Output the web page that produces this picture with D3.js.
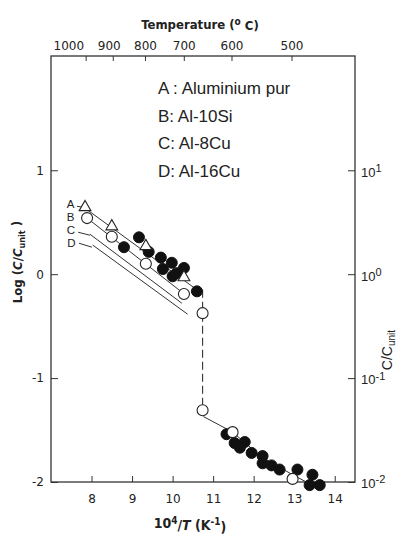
<!DOCTYPE html>
<html><head><meta charset="utf-8">
<script src="https://cdn.jsdelivr.net/npm/d3@7/dist/d3.min.js"></script>
<style>
html,body{margin:0;padding:0;background:#fff;}
svg{display:block;}
</style></head>
<body>
<script>
// ---- data ----
const xTicks = [8, 9, 10, 11, 12, 13, 14];
const yTicks = [-2, -1, 0, 1];
const yTickLabels = ["-2", "-1", "0", "1"];
const rightTicks = [10, 1, 0.1, 0.01];
const rightTickExp = ["1", "0", "-1", "-2"];
const tempTicks = [1000, 900, 800, 700, 600, 500];
const legendItems = ["A : Aluminium pur", "B: Al-10Si", "C: Al-8Cu", "D: Al-16Cu"];

// A: pure Al (open triangles)
const seriesA = [[7.84, 0.635], [8.50, 0.45], [9.34, 0.26], [10.28, -0.04]];
// B: Al-10Si (open circles)
const seriesB = [[7.89, 0.54], [8.50, 0.36], [9.34, 0.10], [10.28, -0.19]];
// other open circles
const openPts = [[10.74, -0.375], [10.74, -1.31], [11.48, -1.52], [12.96, -1.97]];
// filled circles
const filledPts = [
  [8.80, 0.26], [9.17, 0.355], [9.41, 0.215], [9.71, 0.16], [9.98, 0.11], [9.76, 0.05],
  [10.0, -0.02], [10.1, 0.01], [10.28, 0.06], [10.6, -0.165],
  [11.33, -1.54], [11.53, -1.625], [11.78, -1.615], [11.66, -1.67], [11.95, -1.72],
  [12.22, -1.75], [12.22, -1.82], [12.44, -1.84], [12.64, -1.88], [13.08, -1.88],
  [13.45, -1.93], [13.38, -2.03], [13.63, -2.03]
];
// fitted lines
const lineA = [[7.84, 0.635], [10.6, -0.15]];
const lineB = [[7.89, 0.54], [10.35, -0.21]];
const lineC = [[7.96, 0.385], [10.23, -0.28]];
const lineD = [[8.03, 0.28], [10.37, -0.385]];
const lineJump = [[10.74, -0.15], [10.74, -1.31]];
const lineLow = [[10.76, -1.37], [11.48, -1.52], [12.2, -1.76], [12.96, -1.93], [13.3, -2.0]];
// curve letters and their leaders
const curveLetters = [["A", 7.39, 0.635], ["B", 7.39, 0.51], ["C", 7.39, 0.385], ["D", 7.40, 0.26]];
const leaders = [
  [[7.64, 0.654], [7.79, 0.644]],
  [[7.67, 0.404], [7.96, 0.375]],
  [[7.69, 0.298], [8.01, 0.26]]
];

// ---- layout ----
const W = 400, H = 536;
const m = {left: 51, top: 56, right: 45, bottom: 54};
const svg = d3.select("body").append("svg").attr("width", W).attr("height", H);
const x = d3.scaleLinear().domain([7, 14.5]).range([m.left, W - m.right]);
const y = d3.scaleLinear().domain([-2, 2.1]).range([H - m.bottom, m.top]);
const ink = "#222";
const tickFont = "'DejaVu Sans', sans-serif";

// frame
svg.append("rect").attr("x", x(7)).attr("y", y(2.1))
  .attr("width", x(14.5) - x(7)).attr("height", y(-2) - y(2.1))
  .attr("fill", "none").attr("stroke", "#333").attr("stroke-width", 1.3);

// bottom axis
const gBottom = svg.append("g").attr("transform", `translate(0,${y(-2)})`)
  .call(d3.axisBottom(x).tickValues(xTicks).tickSize(-6).tickPadding(12).tickFormat(d3.format("d")));
// left axis
const gLeft = svg.append("g").attr("transform", `translate(${x(7)},0)`)
  .call(d3.axisLeft(y).tickValues(yTicks).tickSize(-7).tickPadding(7).tickFormat((d, i) => yTickLabels[i]));
// top axis (temperature)
const gTop = svg.append("g").attr("transform", `translate(0,${y(2.1)})`)
  .call(d3.axisTop(x).tickValues(tempTicks.map(t => 1e4 / (t + 273.15))).tickSize(-5).tickPadding(6)
    .tickFormat((d, i) => tempTicks[i]));
// right axis (C/Cunit, log)
const gRight = svg.append("g").attr("transform", `translate(${x(14.5)},0)`)
  .call(d3.axisRight(y).tickValues(rightTicks.map(v => Math.log10(v))).tickSize(-7).tickPadding(6).tickFormat(""));

[gBottom, gLeft, gTop, gRight].forEach(g => {
  g.select(".domain").remove();
  g.selectAll(".tick line").attr("stroke", "#333").attr("stroke-width", 1);
  g.selectAll(".tick text").attr("fill", ink).style("font-family", tickFont).style("font-size", "12px");
});
gTop.selectAll(".tick text").filter((d, i) => i === 0).attr("text-anchor", "end").attr("dx", "-2");
gTop.selectAll(".tick text").filter((d, i) => i === 1).attr("dx", "-4");

// right tick labels with superscripts
gRight.selectAll(".tick").each(function(d, i) {
  const t = d3.select(this).append("text").attr("x", 6).attr("dy", "0.45em")
    .attr("fill", ink).style("font-family", "'Liberation Sans', Arial, sans-serif").style("font-size", "13px")
    .attr("text-anchor", "start");
  t.append("tspan").text("10");
  t.append("tspan").attr("dy", "-0.45em").style("font-size", "11px").text(rightTickExp[i]);
});

// ---- lines ----
const line = d3.line().x(d => x(d[0])).y(d => y(d[1]));
const plot = svg.append("g");
[lineA, lineB, lineC, lineD, lineLow].forEach(L => {
  plot.append("path").attr("d", line(L)).attr("fill", "none").attr("stroke", "#333").attr("stroke-width", 1);
});
plot.append("path").attr("d", line(lineJump)).attr("fill", "none").attr("stroke", "#333")
  .attr("stroke-width", 1.1).attr("stroke-dasharray", "8,4");
leaders.forEach(L => {
  plot.append("path").attr("d", line(L)).attr("fill", "none").attr("stroke", "#333").attr("stroke-width", 1);
});

// ---- markers ----
const r = 5.5;
plot.selectAll(".filled").data(filledPts).join("circle").attr("class", "filled")
  .attr("cx", d => x(d[0])).attr("cy", d => y(d[1])).attr("r", r)
  .attr("fill", "#111").attr("stroke", "#111");
plot.selectAll(".openB").data(seriesB.concat(openPts)).join("circle").attr("class", "openB")
  .attr("cx", d => x(d[0])).attr("cy", d => y(d[1])).attr("r", r)
  .attr("fill", "#fff").attr("stroke", "#222").attr("stroke-width", 1.1);
const tri = d3.symbol().type(d3.symbolTriangle).size(60);
plot.selectAll(".triA").data(seriesA).join("path").attr("class", "triA")
  .attr("transform", d => `translate(${x(d[0])},${y(d[1]) - 1})`).attr("d", tri)
  .attr("fill", "#fff").attr("stroke", "#222").attr("stroke-width", 1.1);

// curve letters
plot.selectAll(".letter").data(curveLetters).join("text").attr("class", "letter")
  .attr("x", d => x(d[1])).attr("y", d => y(d[2])).text(d => d[0])
  .attr("fill", ink).style("font-family", "'Liberation Sans', Arial, sans-serif").style("font-size", "11.5px");

// legend text
const legendY = [94, 121.7, 149.3, 177];
svg.selectAll(".leg").data(legendItems).join("text").attr("class", "leg")
  .attr("x", 158).attr("y", (d, i) => legendY[i]).text(d => d)
  .attr("fill", ink).style("font-family", "'Liberation Sans', Arial, sans-serif").style("font-size", "17px");

// ---- axis titles ----
const titleFont = "'DejaVu Sans Condensed', 'DejaVu Sans', sans-serif";
const tt = svg.append("text").attr("x", 200).attr("y", 29).attr("text-anchor", "middle")
  .attr("fill", ink).style("font-family", titleFont).style("font-stretch", "condensed")
  .style("font-weight", "bold").style("font-size", "13px");
tt.append("tspan").text("Temperature (");
tt.append("tspan").attr("dy", "-0.4em").style("font-size", "10px").text("o");
tt.append("tspan").attr("dy", "0.4em").text(" C)");

const bt = svg.append("text").attr("x", 190).attr("y", 528).attr("text-anchor", "middle")
  .attr("fill", ink).style("font-family", titleFont).style("font-stretch", "condensed")
  .style("font-weight", "bold").style("font-size", "14px");
bt.append("tspan").text("10");
bt.append("tspan").attr("dy", "-0.45em").style("font-size", "10px").text("4");
bt.append("tspan").attr("dy", "0.45em").text("/");
bt.append("tspan").style("font-style", "italic").text("T");
bt.append("tspan").text(" (K");
bt.append("tspan").attr("dy", "-0.45em").style("font-size", "10px").text("-1");
bt.append("tspan").attr("dy", "0.45em").text(")");

const lt = svg.append("text").attr("transform", "translate(22,262) rotate(-90)").attr("text-anchor", "middle")
  .attr("fill", ink).style("font-family", titleFont).style("font-stretch", "condensed")
  .style("font-weight", "bold").style("font-size", "13px");
lt.append("tspan").text("Log (");
lt.append("tspan").style("font-style", "italic").text("C");
lt.append("tspan").text("/");
lt.append("tspan").style("font-style", "italic").text("C");
lt.append("tspan").attr("dy", "0.3em").style("font-size", "9px").text("unit");
lt.append("tspan").attr("dy", "-0.3em").text(" )");

const rt = svg.append("text").attr("transform", "translate(392,350) rotate(-90)").attr("text-anchor", "middle")
  .attr("fill", ink).style("font-family", "'Liberation Sans', Arial, sans-serif").style("font-size", "14px");
rt.append("tspan").text("C/C");
rt.append("tspan").attr("dy", "0.3em").style("font-size", "10px").text("unit");
</script>
</body></html>
